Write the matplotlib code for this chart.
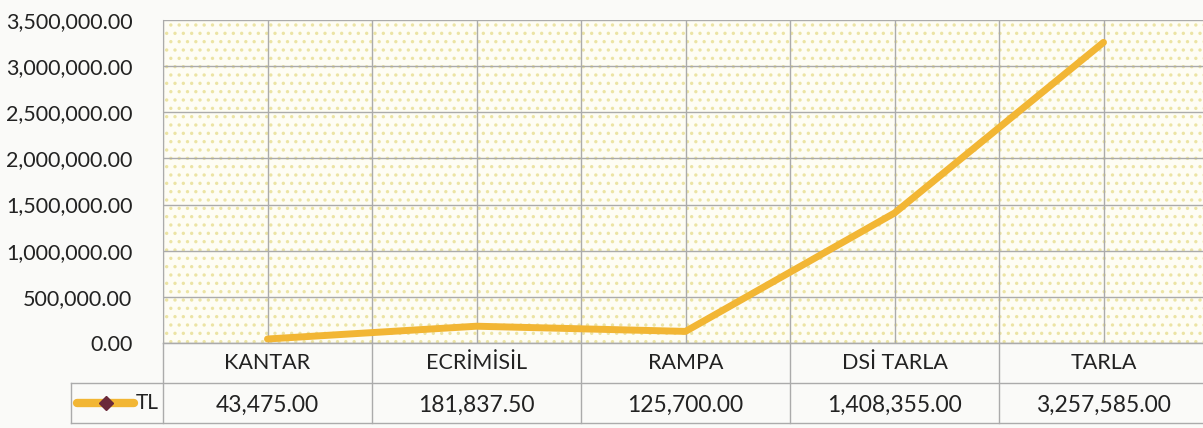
import matplotlib
matplotlib.use("Agg")
import matplotlib.pyplot as plt
from matplotlib.patches import Rectangle
from matplotlib.lines import Line2D
from matplotlib.ticker import FuncFormatter, MultipleLocator

categories = ["KANTAR", "ECRİMİSİL", "RAMPA", "DSİ TARLA", "TARLA"]
values = [43475.00, 181837.50, 125700.00, 1408355.00, 3257585.00]
series_name = "TL"

plt.rcParams['font.family'] = ['Lato', 'DejaVu Sans']
plt.rcParams['hatch.linewidth'] = 1.2

line_color = '#f2b634'
grid_color = '#ababab'
text_color = '#222222'

fig = plt.figure(figsize=(12.03, 4.28), dpi=100)
fig.patch.set_facecolor('#fafaf8')

# plot area
W = 1203.0
H = 428.0
left = 163 / W
width = 1045 / W
ax = fig.add_axes([left, 1 - 343 / H, width, 323 / H])
ax.set_facecolor('none')
ax.add_patch(Rectangle((0, 0), 1, 1, transform=ax.transAxes, facecolor='#fefdf4',
                       edgecolor='#ece4a4', hatch='..', linewidth=0, zorder=0))

x = [i + 0.5 for i in range(len(categories))]
ax.plot(x, values, color=line_color, linewidth=5, solid_capstyle='round',
        solid_joinstyle='round', zorder=3)

ax.set_xlim(0, len(categories))
ax.set_ylim(0, 3500000)
ax.yaxis.set_major_locator(MultipleLocator(500000))
ax.yaxis.set_major_formatter(FuncFormatter(lambda v, p: f"{v:,.2f}"))
ax.xaxis.set_major_locator(MultipleLocator(0.5))
ax.grid(True, color=grid_color, linewidth=1, zorder=1)
ax.set_axisbelow(True)
ax.tick_params(axis='y', length=0, pad=22, labelsize=15.5, labelcolor=text_color)
ax.tick_params(axis='x', length=0, labelbottom=False)
for s in ['top', 'right']:
    ax.spines[s].set_visible(False)
ax.spines['left'].set_color(grid_color)
ax.spines['bottom'].set_color(grid_color)

# data table below
at = fig.add_axes([left, 1 - 423 / H, width, 80 / H])
at.set_xlim(0, len(categories))
at.set_ylim(0, 2)
at.axis('off')
key_left = -0.44
tkw = dict(color=grid_color, linewidth=1, clip_on=False)
at.add_line(Line2D([0, len(categories)], [2, 2], **tkw))
at.add_line(Line2D([key_left, len(categories)], [1, 1], **tkw))
at.add_line(Line2D([key_left, len(categories)], [0, 0], **tkw))
at.add_line(Line2D([key_left, key_left], [0, 1], **tkw))
for i in range(len(categories) + 1):
    at.add_line(Line2D([i, i], [0, 2], **tkw))

for i, (c, v) in enumerate(zip(categories, values)):
    at.text(i + 0.5, 1.5, c, ha='center', va='center', fontsize=15.5, color=text_color)
    at.text(i + 0.5, 0.45, f"{v:,.2f}", ha='center', va='center', fontsize=16.5,
            color=text_color)

# legend key
at.add_line(Line2D([key_left + 0.03, key_left + 0.3], [0.5, 0.5], color=line_color,
                   linewidth=6, solid_capstyle='round', clip_on=False))
at.plot([key_left + 0.165], [0.5], marker='D', markersize=7, color='#6b2a3a',
        clip_on=False, zorder=4)
at.text(key_left + 0.31, 0.5, series_name, ha='left', va='center', fontsize=15,
        color=text_color)

fig.savefig("out.png", dpi=100, facecolor=fig.get_facecolor())
